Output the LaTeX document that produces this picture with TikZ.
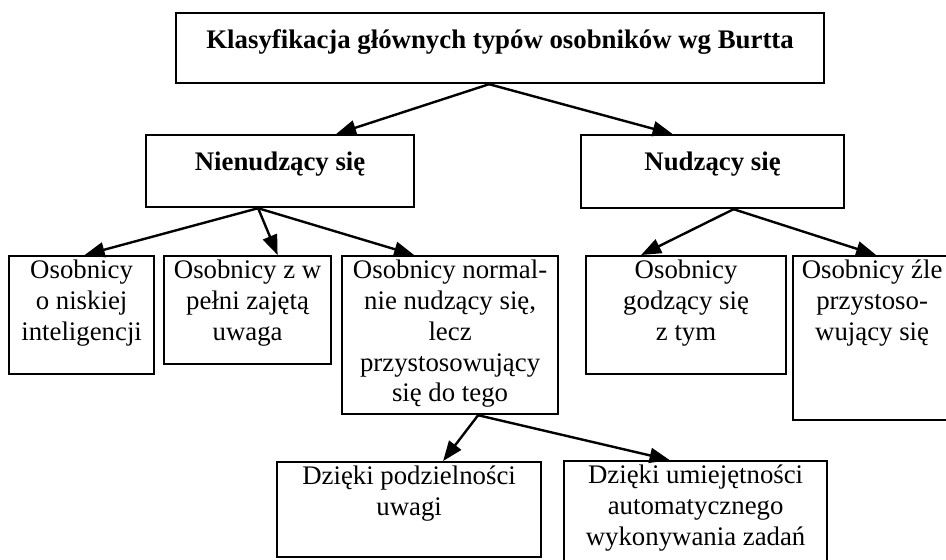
\documentclass[tikz,border=0pt]{standalone}
\usepackage{fontspec}
\setmainfont{Liberation Serif}
\usetikzlibrary{arrows.meta}

\tikzset{
  box/.style 2 args={draw, line width=1.1pt, inner sep=0pt, anchor=north west,
    font=\fontsize{13.4pt}{15.4pt}\selectfont,
    execute at begin node={\begin{minipage}[t][#2][t]{#1}\centering\vspace*{2pt}},
    execute at end node={\end{minipage}}},
  headbox/.style 2 args={box={#1}{#2}, execute at begin node={\vspace*{6.5pt}\bfseries}},
  arr/.style={line width=1.2pt, -{Triangle[length=10pt,width=7.5pt]}}
}

\begin{document}
\begin{tikzpicture}[x=0.5pt, y=-0.5pt]
    \useasboundingbox (0,0) rectangle (946,559);
    % Boxes
    \node[headbox={324pt}{35pt}] (klas) at (175,12) {Klasyfikacja głównych typów osobników wg Burtta};
    \node[headbox={134pt}{36pt}] (nien) at (145,134) {Nienudzący się};
    \node[headbox={131.5pt}{36.5pt}] (nudz) at (580,134) {Nudzący się};
    \node[box={72.5pt}{59pt}] (nisk) at (8,255) {Osobnicy\\o niskiej\\inteligencji};
    \node[box={83.5pt}{54pt}] (pelni) at (163,255) {Osobnicy z w\\pełni zajętą\\uwaga};
    \node[box={108pt}{79pt}] (norm) at (341,255) {Osobnicy normal-\\nie nudzący się,\\lecz\\przystosowujący\\się do tego};
    \node[box={100pt}{59pt}] (godz) at (585,255) {Osobnicy\\godzący się\\z tym};
    \node[box={79pt}{82pt}] (zle) at (792,255) {Osobnicy źle\\przystoso-\\wujący się};
    \node[box={132pt}{47.5pt}] (podz) at (276,461) {Dzięki podzielności\\uwagi};
    \node[box={131.5pt}{52.5pt}] (auto) at (563,460) {Dzięki umiejętności\\automatycznego\\wykonywania zadań};
    % Arrows
    \draw[arr] ([shift={(-11,0)}]klas.south) -- ([shift={(56,0)}]nien.north);
    \draw[arr] ([shift={(-11,0)}]klas.south) -- ([shift={(-40,0)}]nudz.north);
    \draw[arr] ([shift={(-22,0)}]nien.south) -- ([shift={(3,0)}]nisk.north);
    \draw[arr] ([shift={(-22,0)}]nien.south) -- ([shift={(30,0)}]pelni.north);
    \draw[arr] ([shift={(-22,0)}]nien.south) -- ([shift={(-36,0)}]norm.north);
    \draw[arr] ([shift={(21,0)}]nudz.south) -- ([shift={(-45,0)}]godz.north);
    \draw[arr] ([shift={(21,0)}]nudz.south) -- ([shift={(4,0)}]zle.north);
    \draw[arr] ([shift={(28,0)}]norm.south) -- ([shift={(34,0)}]podz.north);
    \draw[arr] ([shift={(28,0)}]norm.south) -- ([shift={(-26,0)}]auto.north);
\end{tikzpicture}
\end{document}
